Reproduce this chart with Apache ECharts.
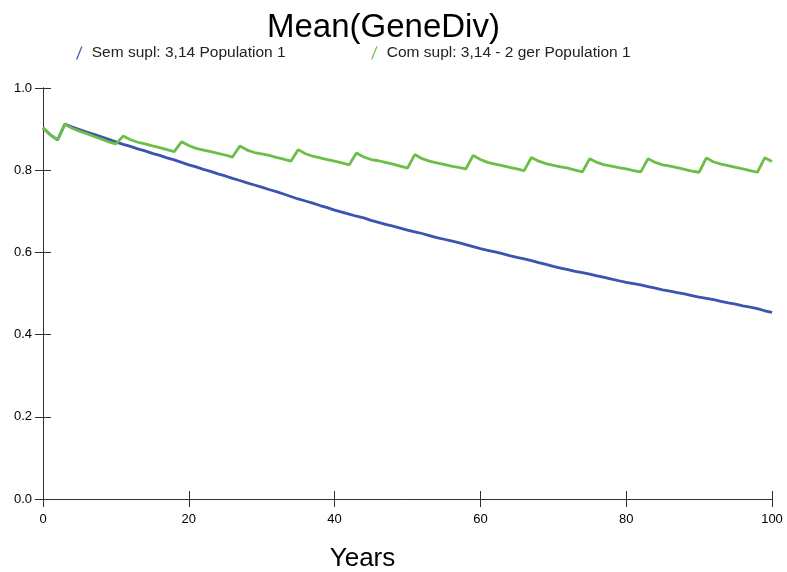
<!DOCTYPE html>
<html>
<head>
<meta charset="utf-8">
<script src="https://cdn.jsdelivr.net/npm/echarts@6/dist/echarts.min.js"></script>
<style>
  html, body { margin: 0; padding: 0; background: #fff; }
  #chart { width: 787px; height: 572px; }
</style>
</head>
<body>
<div id="chart"></div>
<script>
// years 0..100
var years = [];
for (var i = 0; i <= 100; i++) years.push(i);

var semSupl = [
  0.903, 0.886, 0.874, 0.912, 0.905, 0.899, 0.893, 0.887, 0.881, 0.875,
  0.869, 0.863, 0.858, 0.852, 0.847, 0.841, 0.836, 0.830, 0.825, 0.819,
  0.813, 0.808, 0.802, 0.797, 0.791, 0.786, 0.780, 0.775, 0.769, 0.764,
  0.759, 0.753, 0.748, 0.742, 0.736, 0.730, 0.725, 0.720, 0.714, 0.709,
  0.703, 0.698, 0.693, 0.688, 0.684, 0.678, 0.673, 0.668, 0.664, 0.659,
  0.654, 0.650, 0.646, 0.641, 0.636, 0.632, 0.628, 0.624, 0.619, 0.614,
  0.609, 0.605, 0.601, 0.597, 0.592, 0.588, 0.584, 0.580, 0.575, 0.571,
  0.566, 0.562, 0.558, 0.554, 0.551, 0.547, 0.543, 0.539, 0.535, 0.531,
  0.527, 0.524, 0.521, 0.517, 0.513, 0.509, 0.506, 0.502, 0.499, 0.495,
  0.491, 0.488, 0.485, 0.481, 0.477, 0.474, 0.470, 0.467, 0.463, 0.458,
  0.454
];

var comSupl = [
  0.903, 0.886, 0.874, 0.912, 0.902, 0.895, 0.889, 0.882, 0.876, 0.869,
  0.864, 0.883, 0.874, 0.868, 0.864, 0.859, 0.855, 0.850, 0.845, 0.869,
  0.860, 0.853, 0.849, 0.845, 0.841, 0.837, 0.832, 0.859, 0.849, 0.843,
  0.840, 0.836, 0.831, 0.827, 0.822, 0.850, 0.840, 0.834, 0.830, 0.826,
  0.822, 0.818, 0.813, 0.842, 0.832, 0.826, 0.823, 0.819, 0.815, 0.810,
  0.805, 0.838, 0.828, 0.822, 0.818, 0.814, 0.810, 0.807, 0.803, 0.836,
  0.826, 0.819, 0.815, 0.811, 0.807, 0.803, 0.799, 0.831, 0.822, 0.816,
  0.812, 0.808, 0.805, 0.800, 0.796, 0.828, 0.819, 0.813, 0.810, 0.806,
  0.803, 0.799, 0.796, 0.828, 0.819, 0.813, 0.810, 0.806, 0.802, 0.798,
  0.795, 0.830, 0.820, 0.815, 0.811, 0.807, 0.803, 0.799, 0.795, 0.830,
  0.821
];

var seriesNames = ['Sem supl: 3,14 Population 1', 'Com supl: 3,14 - 2 ger Population 1'];
var colors = ['#3C54AF', '#6BBF47'];

function pairs (ys) {
  return years.map(function (x, i) { return [x, ys[i]] })
}

var slash = 'path://M0,10 L4,0 L5,0 L1,10 Z';
var font = 'Liberation Sans, Arial, sans-serif';

var chart = echarts.init(document.getElementById('chart'));
var axisLine = { lineStyle: { color: '#333', width: 1 } };

chart.setOption({
  animation: false,
  title: {
    text: 'Mean(GeneDiv)',
    left: 262,
    top: 6,
    textStyle: { fontFamily: font, fontSize: 33, fontWeight: 'normal', color: '#000' }
  },
  legend: [
    {
      data: [seriesNames[0]],
      left: 71, top: 40,
      icon: slash, itemWidth: 7, itemHeight: 13, itemGap: 5,
      textStyle: { fontFamily: font, fontSize: 15.5, color: '#222', padding: [0, 0, 0, 4] }
    },
    {
      data: [seriesNames[1]],
      left: 366, top: 40,
      icon: slash, itemWidth: 7, itemHeight: 13,
      textStyle: { fontFamily: font, fontSize: 15.5, color: '#222', padding: [0, 0, 0, 4] }
    }
  ],
  grid: { left: 43, right: 15, top: 88, bottom: 73, containLabel: false, outerBoundsMode: 'none' },
  xAxis: [
    {
      type: 'value', min: 0, max: 100, interval: 20,
      name: 'Years', nameLocation: 'middle', nameGap: 47,
      nameTextStyle: { fontFamily: font, fontSize: 26, color: '#000', padding: [0, 90, 0, 0] },
      axisLine: axisLine,
      axisTick: { show: true, length: 8, lineStyle: { color: '#333' } },
      axisLabel: { fontFamily: font, fontSize: 13, color: '#000', margin: 14 },
      splitLine: { show: false }
    },
    {
      type: 'value', min: 0, max: 100, interval: 20, position: 'bottom',
      axisLine: axisLine,
      axisTick: { show: true, inside: true, length: 8, lineStyle: { color: '#333' } },
      axisLabel: { show: false },
      splitLine: { show: false }
    }
  ],
  yAxis: [
    {
      type: 'value', min: 0, max: 1, interval: 0.2,
      axisLine: { show: true, lineStyle: { color: '#333', width: 1 } },
      axisTick: { show: true, length: 8, lineStyle: { color: '#333' } },
      axisLabel: {
        fontFamily: font, fontSize: 13, color: '#000', margin: 11,
        formatter: function (v) { return v.toFixed(1) }
      },
      splitLine: { show: false }
    },
    {
      type: 'value', min: 0, max: 1, interval: 0.2, position: 'left',
      axisLine: { show: true, lineStyle: { color: '#333', width: 1 } },
      axisTick: { show: true, inside: true, length: 8, lineStyle: { color: '#333' } },
      axisLabel: { show: false },
      splitLine: { show: false }
    }
  ],
  series: [
    {
      name: seriesNames[0],
      type: 'line',
      data: pairs(semSupl),
      showSymbol: false,
      lineStyle: { color: colors[0], width: 2.8 },
      itemStyle: { color: colors[0] }
    },
    {
      name: seriesNames[1],
      type: 'line',
      data: pairs(comSupl),
      showSymbol: false,
      lineStyle: { color: colors[1], width: 2.8 },
      itemStyle: { color: colors[1] }
    }
  ]
});
</script>
</body>
</html>
